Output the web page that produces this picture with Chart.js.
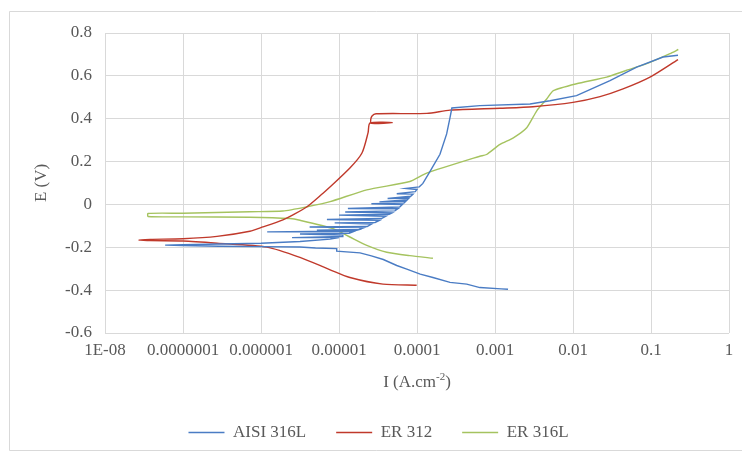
<!DOCTYPE html>
<html><head><meta charset="utf-8">
<script src="https://cdn.jsdelivr.net/npm/chart.js@4.4.0/dist/chart.umd.min.js"></script>
<style>html,body{margin:0;padding:0;background:#fff;}</style>
</head><body>
<canvas id="c" width="742" height="452" style="width:742px;height:452px;display:block"></canvas>
<script>
const seriesNames = ['AISI 316L', 'ER 312', 'ER 316L'];
const xTickLabels = ['1E-08','0.0000001','0.000001','0.00001','0.0001','0.001','0.01','0.1','1'];
const yTickValues = [-0.6,-0.4,-0.2,0,0.2,0.4,0.6,0.8];
const yTickLabels = ['-0.6','-0.4','-0.2','0','0.2','0.4','0.6','0.8'];

const aisiI = [1.47e-3,1.2e-3,6.4e-4,4.34e-4,2.65e-4,1.6e-4,1.1e-4,7.4e-5,5.5e-5,3.7e-5,2.6e-5,1.86e-5,9.35e-6,9.35e-6,5e-6,3.16e-6,1e-6,2.9e-7,1e-7,5.9e-8,
1e-7,3e-7,1e-6,3.16e-6,7.7e-6,
1e-5,2.5e-6,1.1e-5,
1.12e-5,3.16e-6,1.35e-5,
1.5e-5,1.2e-6,1.55e-5,
1.7e-5,5.2e-6,1.8e-5,
2.1e-5,4.2e-6,2.3e-5,
2.6e-5,8.8e-6,2.9e-5,
3.3e-5,7e-6,3.5e-5,
4e-5,1e-5,4.4e-5,
4.8e-5,1.2e-5,5.2e-5,
5.7e-5,1.3e-5,6e-5,
6.5e-5,2.6e-5,6.8e-5,
7.2e-5,3.3e-5,7.5e-5,
7.9e-5,4.2e-5,8.3e-5,
8.9e-5,5.5e-5,9.5e-5,
1e-4,7.2e-5,1.07e-4,
1.19e-4,1.47e-4,1.97e-4,2.4e-4,2.65e-4,2.8e-4,6.4e-4,2.81e-3,5.07e-3,0.0111,0.0298,0.0656,0.1426,0.222];
const aisiE = [-0.396,-0.394,-0.388,-0.372,-0.364,-0.341,-0.325,-0.302,-0.285,-0.257,-0.240,-0.226,-0.218,-0.206,-0.203,-0.199,-0.197,-0.195,-0.192,-0.190,
-0.188,-0.185,-0.181,-0.173,-0.162,
-0.155,-0.155,-0.150,
-0.143,-0.138,-0.135,
-0.128,-0.128,-0.124,
-0.120,-0.120,-0.117,
-0.108,-0.105,-0.103,
-0.092,-0.086,-0.084,
-0.074,-0.070,-0.066,
-0.055,-0.050,-0.046,
-0.039,-0.035,-0.030,
-0.020,-0.019,-0.012,
0.000,0.003,0.006,
0.015,0.012,0.022,
0.030,0.028,0.038,
0.048,0.050,0.060,
0.070,0.075,0.082,
0.098,0.154,0.234,0.329,0.405,0.450,0.461,0.469,0.484,0.508,0.578,0.641,0.688,0.696];

const er312I = [9.9e-5,3.66e-5,1.38e-5,7.7e-6,3.16e-6,1.19e-6,2.73e-7,1e-7,3.77e-8,2.73e-8,
3.8e-8,1e-7,2.73e-7,7.2e-7,1.06e-6,1.91e-6,2.57e-6,3.89e-6,6.24e-6,7.0e-6,
1.38e-5,1.97e-5,2.36e-5,2.5e-5,4.8e-5,2.6e-5,2.55e-5,2.65e-5,2.98e-5,
1.34e-4,2.65e-4,1.16e-3,3.07e-3,0.01,0.0222,0.0438,0.097,0.222];
const er312E = [-0.377,-0.372,-0.341,-0.305,-0.247,-0.199,-0.181,-0.171,-0.169,-0.166,
-0.163,-0.160,-0.149,-0.125,-0.105,-0.072,-0.049,-0.011,0.052,0.068,
0.170,0.240,0.335,0.380,0.382,0.378,0.395,0.413,0.423,
0.425,0.440,0.449,0.456,0.476,0.503,0.539,0.594,0.676];

const er316I = [1.6e-4,8.1e-5,4.1e-5,2.27e-5,1.38e-5,8.4e-6,3.16e-6,2.35e-6,7.2e-7,1e-7,3.56e-8,
3.56e-8,1e-7,7.2e-7,1.91e-6,3.89e-6,7.7e-6,2.27e-5,8.1e-5,1.33e-4,6.4e-4,7.8e-4,1.16e-3,1.72e-3,2.55e-3,3.43e-3,4.6e-3,5.6e-3,0.0111,0.027,0.0488,0.088,0.175,0.224];
const er316E = [-0.251,-0.239,-0.223,-0.191,-0.152,-0.113,-0.074,-0.066,-0.060,-0.058,-0.056,
-0.042,-0.041,-0.034,-0.031,-0.011,0.013,0.068,0.107,0.146,0.225,0.233,0.280,0.311,0.358,0.437,0.492,0.531,0.563,0.594,0.626,0.657,0.704,0.723];

const colors = ['#4a7cc4', '#c0392b', '#a5c35f'];
const toPts = (I, E) => I.map((x, i) => ({x: x, y: E[i]}));
const FONT = 'Liberation Serif';
const TXT = '#595959';

const framePlugin = {
  id: 'frame',
  afterLayout(chart) {
    if (chart.legend) { chart.legend.left += 14; chart.legend.right += 14; }
  },
  beforeDraw(chart) {
    const ctx = chart.ctx;
    ctx.save();
    ctx.fillStyle = '#fff';
    ctx.fillRect(0, 0, chart.width, chart.height);
    ctx.strokeStyle = '#d9d9d9';
    ctx.lineWidth = 1;
    ctx.beginPath();
    ctx.moveTo(760, 11.5); ctx.lineTo(9.5, 11.5); ctx.lineTo(9.5, 450.5); ctx.lineTo(760, 450.5);
    ctx.stroke();
    ctx.restore();
  },
  afterDraw(chart) {
    const ctx = chart.ctx;
    const a = chart.chartArea;
    ctx.save();
    ctx.fillStyle = TXT;
    ctx.textBaseline = 'alphabetic';
    const main1 = 'I (A.cm', sup = '-2', main2 = ')';
    ctx.font = '17px "' + FONT + '"';
    const w1 = ctx.measureText(main1).width, w3 = ctx.measureText(main2).width;
    ctx.font = '11px "' + FONT + '"';
    const w2 = ctx.measureText(sup).width;
    let x = (a.left + a.right) / 2 - (w1 + w2 + w3) / 2;
    const y = 387;
    ctx.font = '17px "' + FONT + '"';
    ctx.fillText(main1, x, y); x += w1;
    ctx.font = '11px "' + FONT + '"';
    ctx.fillText(sup, x, y - 7); x += w2;
    ctx.font = '17px "' + FONT + '"';
    ctx.fillText(main2, x, y);
    ctx.restore();
  }
};

const common = {showLine: true, pointRadius: 0, borderWidth: 1.4, fill: false};
new Chart(document.getElementById('c'), {
  type: 'scatter',
  data: {
    datasets: [
      Object.assign({label: seriesNames[0], data: toPts(aisiI, aisiE), borderColor: colors[0], backgroundColor: colors[0], tension: 0}, common),
      Object.assign({label: seriesNames[1], data: toPts(er312I, er312E), borderColor: colors[1], backgroundColor: colors[1], tension: 0.25}, common),
      Object.assign({label: seriesNames[2], data: toPts(er316I, er316E), borderColor: colors[2], backgroundColor: colors[2], tension: 0.2}, common)
    ]
  },
  options: {
    responsive: false,
    animation: false,
    devicePixelRatio: 1,
    layout: {padding: {top: 33, left: 0, right: 13, bottom: 1}},
    plugins: {
      tooltip: {enabled: false},
      legend: {
        position: 'bottom',
        labels: {
          usePointStyle: true, pointStyle: 'line', pointStyleWidth: 36,
          font: {family: FONT, size: 17}, color: TXT, padding: 30
        }
      }
    },
    scales: {
      x: {
        type: 'logarithmic', min: 1e-8, max: 1,
        afterBuildTicks: s => { s.ticks = xTickLabels.map((_, i) => ({value: Math.pow(10, i - 8)})); },
        afterFit: s => { s.height = 61; },
        grid: {color: '#d9d9d9', drawTicks: false},
        border: {display: false},
        ticks: {
          autoSkip: false, maxRotation: 0, minRotation: 0, padding: 7,
          font: {family: FONT, size: 17}, color: TXT,
          callback: v => xTickLabels[Math.round(Math.log10(v)) + 8]
        }
      },
      y: {
        type: 'linear', min: -0.6, max: 0.8,
        afterBuildTicks: s => { s.ticks = yTickValues.map(v => ({value: v})); },
        afterFit: s => { s.width = 105; },
        grid: {color: '#d9d9d9', drawTicks: false},
        border: {display: false},
        title: {display: true, text: 'E (V)', font: {family: FONT, size: 17}, color: TXT, padding: {top: 31, bottom: 0}},
        ticks: {
          padding: 13, font: {family: FONT, size: 17}, color: TXT,
          callback: v => { const i = yTickValues.findIndex(t => Math.abs(t - v) < 1e-9); return i >= 0 ? yTickLabels[i] : ''; }
        }
      }
    }
  },
  plugins: [framePlugin]
});
</script>
</body></html>
